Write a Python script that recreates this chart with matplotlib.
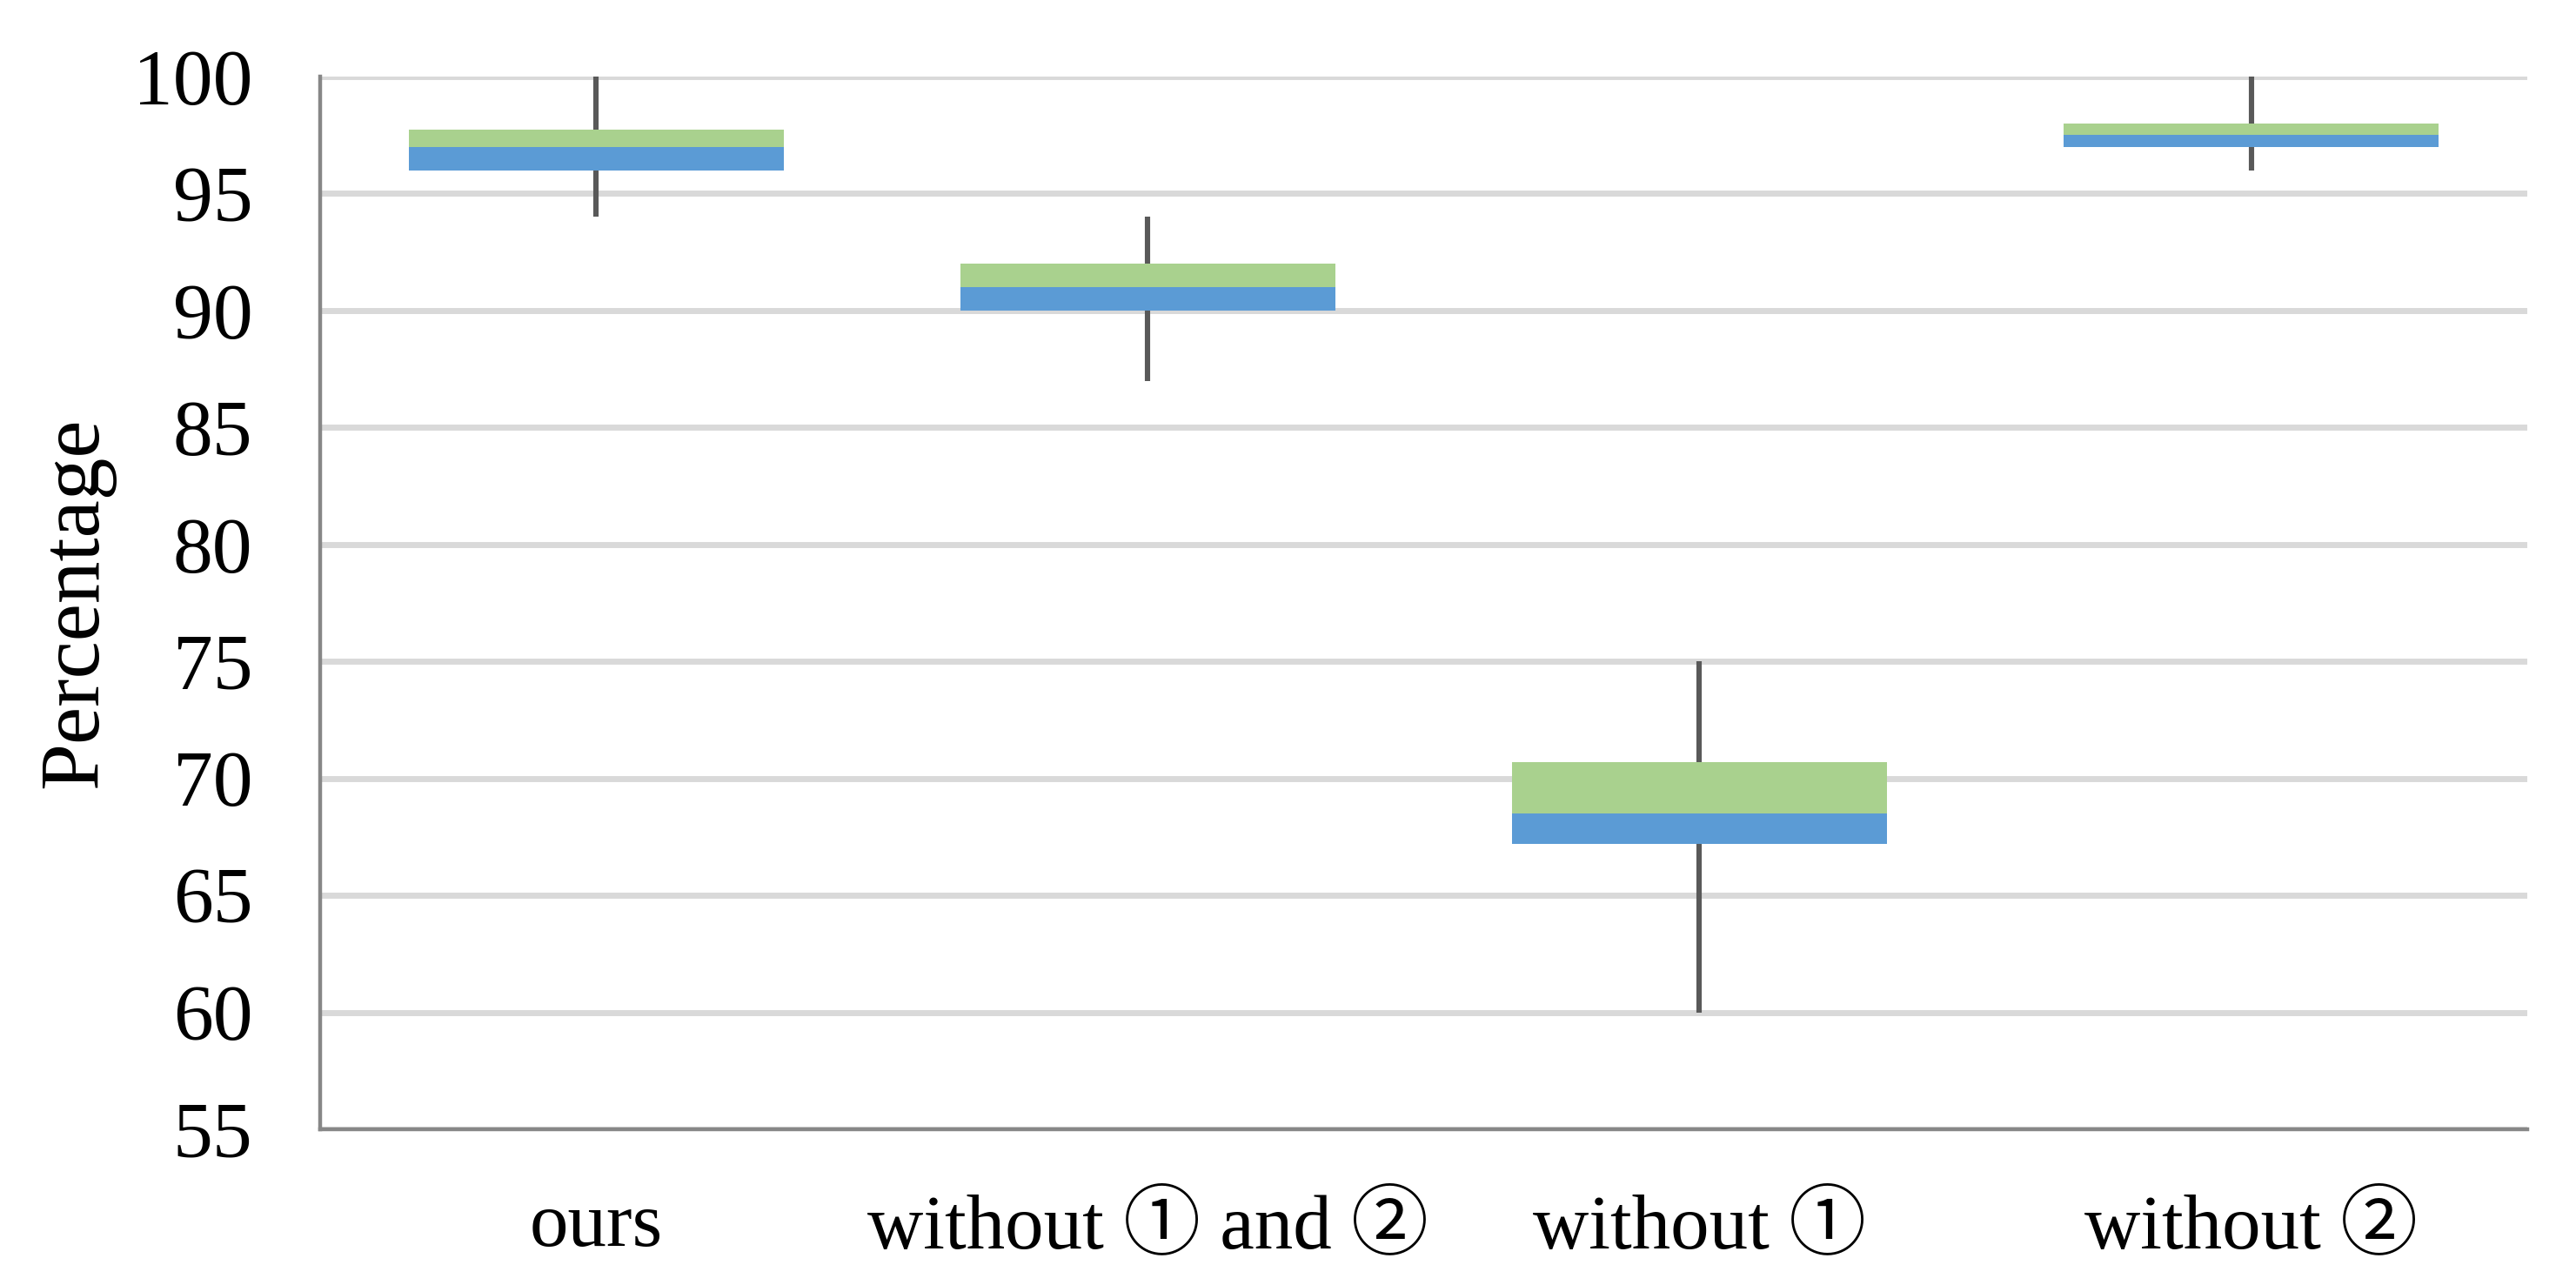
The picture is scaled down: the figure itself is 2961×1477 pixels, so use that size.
import matplotlib
matplotlib.use('Agg')
import matplotlib.pyplot as plt
import numpy as np

plt.rcParams['font.family'] = ['Liberation Serif', 'Noto Sans CJK SC', 'DejaVu Sans']

categories = ['ours', 'without ① and ②', 'without ①', 'without ②']
mins = [94, 87, 60, 96]
q1 = [96, 90, 67.2, 97]
medians = [97, 91, 68.5, 97.5]
q3 = [97.75, 92, 70.7, 98]
maxs = [100, 94, 75, 100]
yticks = [55, 60, 65, 70, 75, 80, 85, 90, 95, 100]

fig = plt.figure(figsize=(14.805, 7.385), dpi=200)
ax = fig.add_axes([0.1243, 0.1212, 0.8567, 0.8192])

x = np.arange(len(categories))
lower = np.array(medians) - np.array(q1)
upper = np.array(q3) - np.array(medians)

# whiskers first, boxes on top
ax.vlines(x, mins, q1, color='#595959', lw=2.2, zorder=2)
ax.vlines(x, q3, maxs, color='#595959', lw=2.2, zorder=2)
ax.bar(x, lower, bottom=q1, width=0.68, color='#5B9BD5', zorder=3)
ax.bar(x, upper, bottom=medians, width=0.68, color='#A9D18E', zorder=3)

ax.set_ylim(55, 100)
ax.set_xlim(-0.5, len(categories) - 0.5)
ax.set_yticks(yticks)
ax.set_xticks(x)
ax.set_xticklabels(categories)
ax.tick_params(axis='both', length=0)
ax.tick_params(axis='y', pad=28, labelsize=33)
ax.tick_params(axis='x', pad=26, labelsize=32)

ax.yaxis.grid(True, color='#D9D9D9', lw=2.5, zorder=0)
ax.set_axisbelow(True)
for s in ['top', 'right']:
    ax.spines[s].set_visible(False)
for s in ['left', 'bottom']:
    ax.spines[s].set_color('#878787')
    ax.spines[s].set_linewidth(1.6)

ax.set_ylabel('Percentage', fontsize=35)
ax.yaxis.set_label_coords(-0.093, 0.5)

plt.savefig('out.png', dpi=200)
